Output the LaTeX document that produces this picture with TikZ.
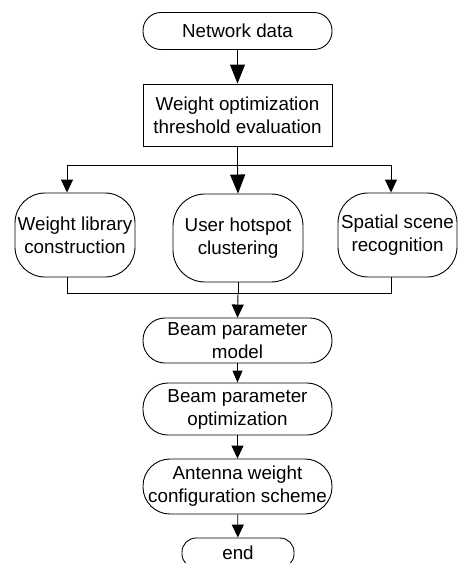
\documentclass[tikz,border=0pt]{standalone}
\usepackage{fontspec}
\setmainfont{Liberation Sans}
\usetikzlibrary{arrows.meta,calc}
\begin{document}
\begin{tikzpicture}[x=1pt,y=-1pt,
  every node/.style={font=\fontsize{18.8}{23}\selectfont, align=center, inner sep=0pt, line width=0.9pt},
  box/.style={draw, minimum width=#1},
  conn/.style={line width=0.9pt},
  bigtip/.style={-{Triangle[length=19pt,width=15pt]}},
  midtip/.style={-{Triangle[length=13pt,width=12pt]}},
  smalltip/.style={-{Triangle[length=12pt,width=10pt]}}]
\useasboundingbox (0,0) rectangle (458,563);
\clip (0,0) rectangle (458,563);
\node[box=189pt, minimum height=37pt, rounded corners=18pt] (nd) at (237.5,31) {Network data};
\node[box=189pt, minimum height=62pt] (wo) at (237.5,115) {Weight optimization\\threshold evaluation};
\node[box=120pt, minimum height=84pt, rounded corners=30pt] (wl) at (75,235) {Weight library\\construction};
\node[box=130pt, minimum height=88pt, rounded corners=32pt] (uh) at (238,238) {User hotspot\\clustering};
\node[box=119pt, minimum height=84pt, rounded corners=30pt] (ss) at (397.5,235) {Spatial scene\\recognition};
\node[box=189pt, minimum height=45pt, rounded corners=22pt] (bm) at (237.5,340.5) {Beam parameter\\model};
\node[box=189pt, minimum height=52pt, rounded corners=25pt] (bo) at (237.5,409) {Beam parameter\\optimization};
\node[box=189pt, minimum height=55pt, rounded corners=27pt] (aw) at (237.5,486.5) {Antenna weight\\configuration scheme};
\node[box=112pt, minimum height=30pt, rounded corners=14pt] (en) at (238,553) {end};
\coordinate (xl) at (67,0);
\coordinate (xr) at (391,0);
\coordinate (ytop) at (0,165);
\coordinate (ybot) at (0,293);
\draw[conn,bigtip] (nd) -- (wo);
\draw[conn] (wo.south) -- (wo.south |- ytop);
\draw[conn,midtip] (xl |- ytop) -- (xl |- wl.north);
\draw[conn,midtip] (xr |- ytop) -- (xr |- ss.north);
\draw[conn] (xl |- ytop) -- (xr |- ytop);
\draw[conn,bigtip] (wo.south |- ytop) -- (uh.north);
\draw[conn] (xl |- wl.south) -- (xl |- ybot) -- (xr |- ybot) -- (xr |- ss.south);
\draw[conn] (uh.south) -- (uh.south |- ybot);
\draw[conn,midtip] (uh.south |- ybot) -- (bm.north);
\draw[conn,smalltip] (bm) -- (bo);
\draw[conn,midtip] (bo) -- (aw);
\draw[conn,midtip] (aw) -- (en);
\end{tikzpicture}
\end{document}
